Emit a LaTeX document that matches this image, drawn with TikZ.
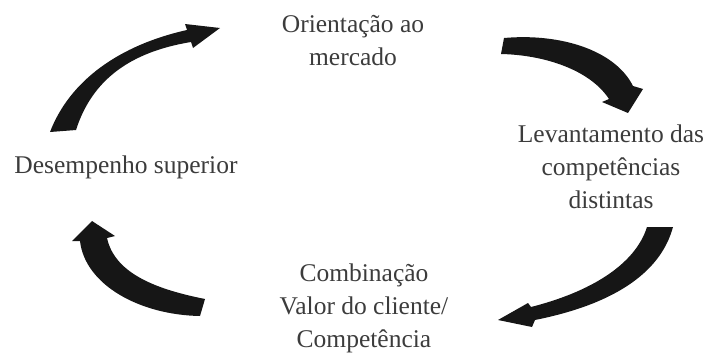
\documentclass[tikz,border=0pt]{standalone}
\usepackage{fontspec}
\setmainfont{Liberation Serif}
\usepackage{tikz}
\usetikzlibrary{calc,positioning}

\definecolor{textgray}{RGB}{60,60,60}
\definecolor{arrowblack}{RGB}{22,22,22}

\tikzset{
    label/.style={align=center, anchor=base, inner sep=0pt, text=textgray,
        font=\fontsize{25.5}{33}\selectfont},
    cyclearrow/.style={fill=arrowblack}
}

\begin{document}
\begin{tikzpicture}[x=1pt, y=-1pt]

    \useasboundingbox (0,0) rectangle (710,356);

    % base anchor sits on the last line
    \node[label] (ori) at (353,65) {Orientação ao\\mercado};
    \node[label] (lev) at (611,208) {Levantamento das\\competências\\distintas};
    \node[label] (comb) at (364,347) {Combinação\\Valor do cliente/\\Competência};
    \node[label] (des) at (126,173) {Desempenho superior};

    % des -> ori
    \fill[cyclearrow] (50,132) .. controls (70,80) and (120,45) .. (187,30)
        -- (185,24) -- (220,28) -- (193,48) -- (191,42)
        .. controls (130,52) and (92,80) .. (76,130) -- cycle;

    % ori -> lev
    \fill[cyclearrow] (504,38) .. controls (560,33) and (615,50) .. (633,86)
        -- (643,89) -- (628,113) -- (602,102) -- (609,99)
        .. controls (590,70) and (545,55) .. (501,54) -- cycle;

    % lev -> comb
    \fill[cyclearrow] (647,227) -- (673,227)
        .. controls (660,275) and (610,305) .. (535,320)
        -- (532,327) -- (498,320) -- (528,303) -- (531,307)
        .. controls (590,292) and (635,265) .. (647,227) -- cycle;

    % comb -> des
    \fill[cyclearrow] (205,299) .. controls (160,290) and (115,275) .. (107,238)
        -- (115,236) -- (92,221) -- (72,241) -- (80,241)
        .. controls (85,285) and (140,315) .. (200,316) -- cycle;

\end{tikzpicture}
\end{document}
